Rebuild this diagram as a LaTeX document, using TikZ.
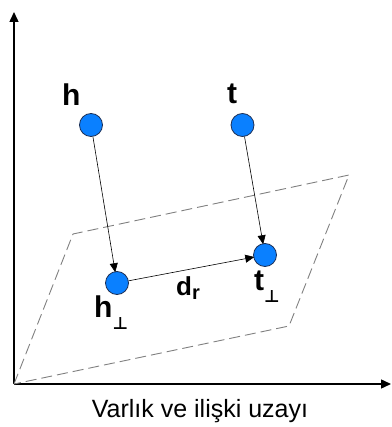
\documentclass[tikz,border=0pt]{standalone}
\usepackage{amsmath,amssymb}
\usepackage{fontspec}
\setmainfont{Liberation Sans}
\newfontfamily\symbfont{DejaVu Sans}
\usepackage{tikz}
\usetikzlibrary{arrows.meta}
\definecolor{ballblue}{HTML}{0A80FF}
\definecolor{balledge}{HTML}{1C2F55}
\definecolor{planegray}{HTML}{808080}
\newcommand{\perpsub}{\raisebox{-12pt}{\fontsize{17}{17}\symbfont\bfseries ⊥}}
\tikzset{
  ent/.style={circle,fill=ballblue,draw=balledge,line width=0.8pt,minimum size=23pt,inner sep=0pt},
  lab/.style={font=\fontsize{30}{32}\selectfont\bfseries,inner sep=0pt,anchor=base west},
  conn/.style={-{Triangle[length=9pt,width=8pt]},line width=0.6pt,shorten >=-1pt},
  axis/.style={-{Triangle[length=10pt,width=9pt]},line width=1.4pt}
}
\begin{document}
\begin{tikzpicture}[x=1pt,y=-1pt]
\useasboundingbox (0,0) rectangle (391,427);
% axes
\coordinate (o) at (14,384);
\coordinate (ytop) at (14,12);
\coordinate (xend) at (391,384);
\draw[axis] (o)--(ytop);
\draw[axis] (o)--(xend);
% plane
\draw[planegray,line width=0.9pt,dash pattern=on 11pt off 5pt] (o)--(73,234)--(349,175)--(289,326)--cycle;
% entities
\node[ent] (h) at (91,125) {};
\node[ent] (t) at (242.5,125) {};
\node[ent] (hp) at (117,283) {};
\node[ent] (tp) at (265,255) {};
\node[lab] (hlab) at (62,106) {h};
\node[lab] (tlab) at (227,104) {t};
\node[lab] (hplab) at (94,317) {h\perpsub};
\node[lab] (tplab) at (254,290) {t\perpsub};
\node[lab,font=\fontsize{26}{28}\selectfont\bfseries] (dlab) at (176,295) {d\raisebox{-4pt}{\fontsize{20}{20}\selectfont\bfseries r}};
\draw[conn] (h)--(hp);
\draw[conn] (t)--(tp);
\draw[conn] (hp)--(tp);
\node[font=\fontsize{25}{28}\selectfont,inner sep=0pt,anchor=base] (cap) at (200,417) {Varlık ve ilişki uzayı};
\end{tikzpicture}
\end{document}
